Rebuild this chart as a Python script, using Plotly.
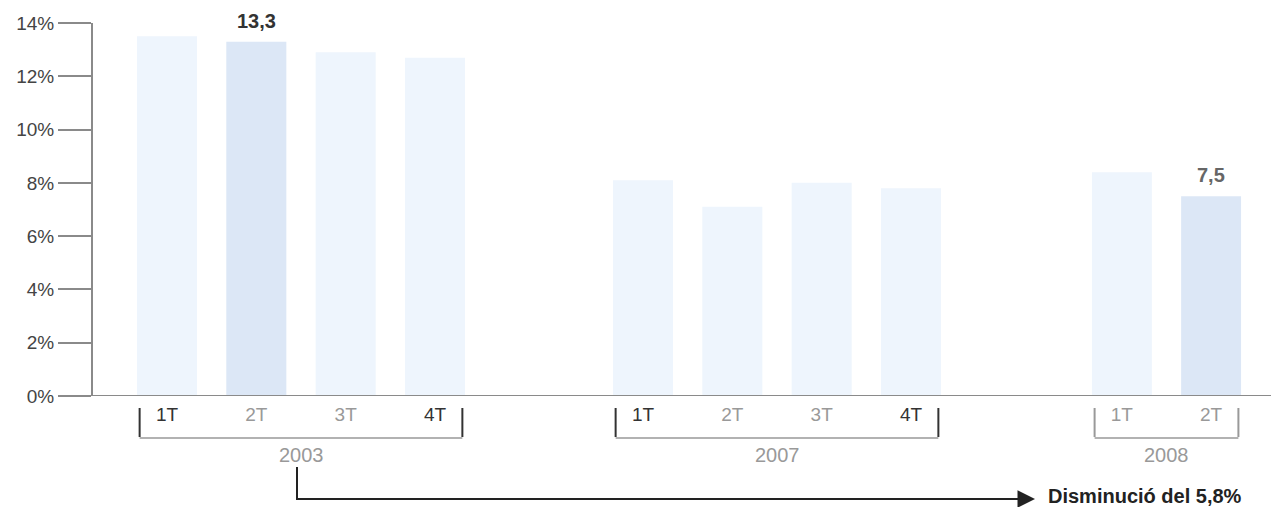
import plotly.graph_objects as go

# ---- data ----
years = ["2003", "2007", "2008"]
quarters_2003 = ["1T", "2T", "3T", "4T"]
quarters_2007 = ["1T", "2T", "3T", "4T"]
quarters_2008 = ["1T", "2T"]
values_2003 = [13.5, 13.3, 12.9, 12.7]
values_2007 = [8.1, 7.1, 8.0, 7.8]
values_2008 = [8.4, 7.5]
highlight_2003 = [False, True, False, False]
highlight_2007 = [False, False, False, False]
highlight_2008 = [False, True]
y_ticks = [0, 2, 4, 6, 8, 10, 12, 14]
note_text = "Disminució del 5,8%"

# ---- layout constants ----
# page has an 8px body margin; layout below is expressed in page pixels
OFF = 8
W, H = 1279 - OFF, 507 - OFF
PLOT_L, PLOT_R, PLOT_T, PLOT_B = 92, 1279, 23, 396  # page pixels
ML, MR, MT = PLOT_L - OFF, 0, PLOT_T - OFF
MB = H - (PLOT_B - OFF)
PW, PH = PLOT_R - PLOT_L, PLOT_B - PLOT_T

def px_x(p):
    return (p - PLOT_L) / PW

def px_y(p):
    return (PLOT_B - p) / PH

LIGHT = "#EEF5FD"
HIGH = "#DCE7F6"
DARK_T = "#333333"
GREY_T = "#999999"
AXIS = "#8a8a8a"
FONT = "Liberation Sans, Arial, sans-serif"

groups = [
    (quarters_2003, values_2003, highlight_2003, "x", (122.3, 479.7), [DARK_T, GREY_T, GREY_T, DARK_T], DARK_T),
    (quarters_2007, values_2007, highlight_2007, "x2", (598.3, 955.7), [DARK_T, GREY_T, GREY_T, DARK_T], DARK_T),
    (quarters_2008, values_2008, highlight_2008, "x3", (1077.3, 1255.7), [GREY_T, GREY_T], GREY_T),
]

fig = go.Figure()
shapes = []
annotations = []
bar_half = 0.336

for i, (qs, vals, hl, xa, dom, tcolors, bcolor) in enumerate(groups):
    fig.add_trace(go.Bar(
        x=list(range(len(qs))), y=vals, xaxis=xa, yaxis="y",
        marker=dict(color=[HIGH if h else LIGHT for h in hl], line=dict(width=0)),
        hoverinfo="skip", showlegend=False,
    ))
    axname = "xaxis" if xa == "x" else "xaxis" + xa[1:]
    fig.update_layout(**{axname: dict(
        domain=[px_x(dom[0]), px_x(dom[1])],
        range=[-0.5, len(qs) - 0.5],
        tickmode="array",
        tickvals=list(range(len(qs))),
        ticktext=[f'<span style="color:{c}">{q}</span>' for q, c in zip(qs, tcolors)],
        tickfont=dict(family=FONT, size=19, color=GREY_T),
        showline=False, showgrid=False, zeroline=False,
        ticks="outside", ticklen=1, tickcolor="rgba(0,0,0,0)",
        anchor="y", fixedrange=True, automargin=False,
    )})
    # bracket
    x0 = -bar_half + 0.03
    x1 = len(qs) - 1 + bar_half - 0.03
    ya, yb, yh = px_y(408), px_y(437), px_y(438)
    shapes += [
        dict(type="line", xref=xa, yref="paper", x0=x0, x1=x0, y0=ya, y1=yb,
             line=dict(color=bcolor, width=2)),
        dict(type="line", xref=xa, yref="paper", x0=x1, x1=x1, y0=ya, y1=yb,
             line=dict(color=bcolor, width=2)),
        dict(type="line", xref=xa, yref="paper", x0=x0, x1=x1, y0=yh, y1=yh,
             line=dict(color="#999999", width=1.5)),
    ]
    annotations.append(dict(
        xref=xa, yref="paper", x=(len(qs) - 1) / 2, y=px_y(455),
        text=years[i], showarrow=False, yanchor="middle",
        font=dict(family=FONT, size=20, color=GREY_T),
    ))
    for j, (v, h) in enumerate(zip(vals, hl)):
        if h:
            annotations.append(dict(
                xref=xa, yref="y", x=j, y=v, yanchor="bottom", yshift=8,
                text=f"<b>{v:.1f}</b>".replace(".", ","), showarrow=False,
                font=dict(family=FONT, size=20, color=DARK_T if i == 0 else "#666666"),
            ))

# baseline
shapes.append(dict(type="line", xref="paper", yref="y", x0=0, x1=1, y0=0, y1=0,
                   line=dict(color=AXIS, width=2)))

# comparison arrow
ax_x = px_x(297)
shapes.append(dict(type="path", xref="paper", yref="paper",
                   path=f"M {ax_x},{px_y(467)} L {ax_x},{px_y(499)} L {px_x(1024)},{px_y(499)}",
                   line=dict(color="#222222", width=2)))
annotations.append(dict(
    xref="paper", yref="paper", x=px_x(1035), y=px_y(499), ax=-14, ay=0,
    axref="pixel", ayref="pixel", text="", showarrow=True,
    arrowhead=2, arrowsize=1.4, arrowwidth=2.5, arrowcolor="#222222",
))
annotations.append(dict(
    xref="paper", yref="paper", x=px_x(1046), y=px_y(496), xanchor="left", yanchor="middle",
    text=f"<b>{note_text}</b>", showarrow=False,
    font=dict(family=FONT, size=20, color="#222222"),
))

fig.update_layout(
    width=W, height=H,
    margin=dict(l=ML, r=MR, t=MT, b=MB, pad=0, autoexpand=False),
    paper_bgcolor="white", plot_bgcolor="white",
    bargap=0.328,
    yaxis=dict(
        range=[0, 14], tickvals=y_ticks, ticktext=[f"{t}%" for t in y_ticks],
        anchor="free", position=0,
        showline=True, linecolor=AXIS, linewidth=2,
        ticks="outside", ticklen=33, tickwidth=2, tickcolor=AXIS,
        tickfont=dict(family=FONT, size=19, color="#444444"),
        showgrid=False, zeroline=False, fixedrange=True, automargin=False,
    ),
    shapes=shapes, annotations=annotations,
    showlegend=False,
)

fig.write_html("out.html")
